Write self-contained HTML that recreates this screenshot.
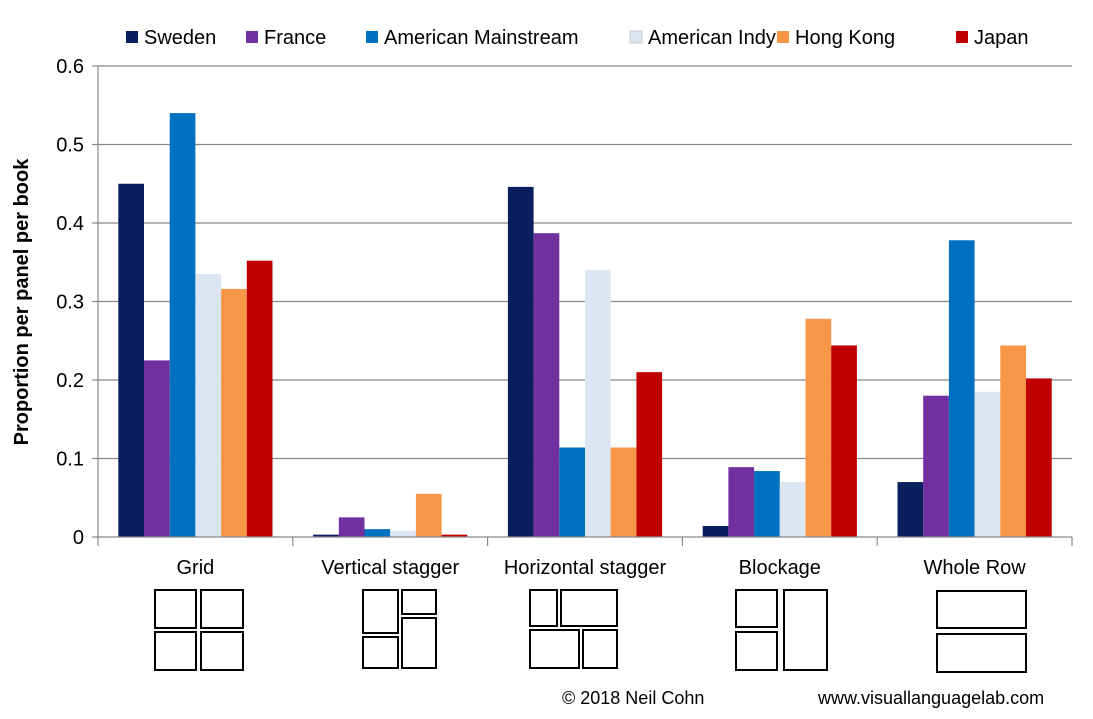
<!DOCTYPE html>
<html><head><meta charset="utf-8"><style>
body{margin:0;background:#fff;font-family:"Liberation Sans",Arial,sans-serif}
</style></head><body>
<svg id="c" width="1093" height="714" xmlns="http://www.w3.org/2000/svg" font-family="Liberation Sans, Arial, sans-serif"></svg>
<script>
const categories=["Grid","Vertical stagger","Horizontal stagger","Blockage","Whole Row"];
const seriesNames=["Sweden","France","American Mainstream","American Indy","Hong Kong","Japan"];
const seriesColors=["#0b1f5e","#7030a0","#0070c0","#dce6f2","#f79646","#c00000"];
const sweden=[0.45,0.003,0.446,0.014,0.07];
const france=[0.225,0.025,0.387,0.089,0.18];
const amMain=[0.54,0.01,0.114,0.084,0.378];
const amIndy=[0.335,0.008,0.34,0.07,0.185];
const hongKong=[0.316,0.055,0.114,0.278,0.244];
const japan=[0.352,0.003,0.21,0.244,0.202];
const yTicks=[0,0.1,0.2,0.3,0.4,0.5,0.6];
const yTickLabels=["0","0.1","0.2","0.3","0.4","0.5","0.6"];
const series=[sweden,france,amMain,amIndy,hongKong,japan];
const NS="http://www.w3.org/2000/svg",svg=document.getElementById('c');
function mk(t,a,p){const e=document.createElementNS(NS,t);for(const k in a)e.setAttribute(k,a[k]);(p||svg).appendChild(e);return e;}
const x0=98,x1=1072,yBase=537,yTop=66;
const y=v=>yBase-(v/0.6)*(yBase-yTop);
const gw=(x1-x0)/categories.length,bw=25.7;
yTicks.forEach((t,i)=>{
 if(i>0){const g=mk('line',{x1:x0,x2:x1,y1:y(t),y2:y(t),stroke:'#888','stroke-width':1.2});
 }
 const tk=mk('line',{x1:x0-6,x2:x0,y1:y(t),y2:y(t),stroke:'#888','stroke-width':1.2});
 
 const l=mk('text',{x:x0-14,y:y(t)+7,'text-anchor':'end','font-size':20,fill:'#000'});l.textContent=yTickLabels[i];
 
});
series.forEach((s,si)=>s.forEach((v,ci)=>{
 const bx=x0+ci*gw+(gw-6*bw)/2+si*bw;
 const r=mk('rect',{x:bx,y:y(v),width:bw,height:yBase-y(v),fill:seriesColors[si]});
 
 
}));
const ax=mk('line',{x1:x0,x2:x0,y1:yTop,y2:yBase,stroke:'#888','stroke-width':1.2});

const xa=mk('line',{x1:x0,x2:x1,y1:yBase,y2:yBase,stroke:'#888','stroke-width':1.2});

for(let i=0;i<=categories.length;i++){const t=mk('line',{x1:x0+i*gw,x2:x0+i*gw,y1:yBase,y2:yBase+9,stroke:'#888','stroke-width':1.2});
 }
categories.forEach((c,i)=>{const t=mk('text',{x:x0+(i+0.5)*gw,y:574,'text-anchor':'middle','font-size':20});t.textContent=c;
 });
const yt=mk('text',{transform:'translate(28,302) rotate(-90)','text-anchor':'middle','font-size':20,'font-weight':'bold'});yt.textContent='Proportion per panel per book';

// legend
const legX=[126,246,366,630,777,956];
seriesNames.forEach((n,i)=>{
 const g=mk('g',{});
 mk('rect',{x:legX[i],y:31,width:12,height:12,fill:seriesColors[i],stroke:i==3?'#ccd':'none'},g);
 const t=mk('text',{x:legX[i]+18,y:44,'font-size':20},g);t.textContent=n;
});
// icons
const icons=[[[155,590,41,38],[201,590,42,38],[155,632,41,38],[201,632,42,38]],
[[363,590,35,43],[363,637,35,31],[402,590,34,24],[402,618,34,50]],
[[530,590,27,36],[561,590,56,36],[530,630,49,38],[583,630,34,38]],
[[736,590,41,37],[736,632,41,38],[784,590,43,80]],
[[937,591,89,37],[937,634,89,38]]];
icons.forEach((ic,i)=>ic.forEach(r=>{const e=mk('rect',{x:r[0],y:r[1],width:r[2],height:r[3],fill:'none',stroke:'#000','stroke-width':2});
 }));
const c1=mk('text',{x:562,y:704,'font-size':18});c1.textContent='© 2018 Neil Cohn';

const c2=mk('text',{x:818,y:704,'font-size':18});c2.textContent='www.visuallanguagelab.com';

</script>
</body></html>
